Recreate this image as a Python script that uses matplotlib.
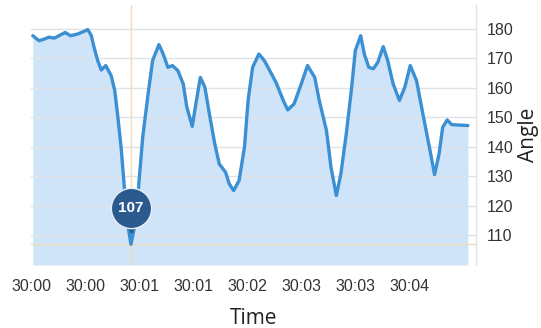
import matplotlib
matplotlib.use("Agg")
import matplotlib.pyplot as plt
import matplotlib.transforms as mtransforms

# ---- data ----
time_s = [0.02, 0.09, 0.15, 0.20, 0.26, 0.31, 0.38, 0.44, 0.52, 0.59,
          0.63, 0.67, 0.70, 0.74, 0.78, 0.83, 0.89, 0.93, 0.96, 1.00,
          1.03, 1.06, 1.11, 1.17, 1.20, 1.24, 1.30, 1.35, 1.42, 1.46,
          1.52, 1.57, 1.63, 1.69, 1.73, 1.79, 1.83, 1.88, 1.93, 1.98,
          2.04, 2.09, 2.16, 2.20, 2.25, 2.31, 2.37, 2.41, 2.46, 2.53,
          2.59, 2.65, 2.72, 2.80, 2.85, 2.92, 3.00, 3.07, 3.15, 3.20,
          3.28, 3.33, 3.39, 3.44, 3.50, 3.56, 3.60, 3.66, 3.70, 3.75,
          3.80, 3.85, 3.91, 3.96, 4.02, 4.09, 4.15, 4.21, 4.28, 4.35,
          4.43, 4.48, 4.53, 4.57, 4.62, 4.67, 4.85]
angle = [177.6, 175.9, 176.5, 177.1, 176.8, 177.6, 178.7, 177.6, 178.2, 179.1,
         179.7, 177.6, 173.7, 169.2, 166.0, 167.5, 164.1, 159.0, 151.2, 139.9,
         128.6, 116.2, 107.0, 116.2, 128.6, 143.2, 157.9, 169.2, 174.6, 172.0,
         166.9, 167.5, 165.8, 161.3, 153.4, 146.9, 154.5, 163.5, 160.2, 151.2,
         141.0, 134.2, 131.4, 127.5, 125.2, 128.6, 139.9, 155.7, 166.9, 171.4,
         169.2, 165.8, 161.8, 155.7, 152.5, 154.5, 161.3, 167.5, 163.5, 155.7,
         145.5, 133.1, 123.5, 130.9, 144.4, 160.2, 172.6, 177.6, 171.4, 166.9,
         166.4, 168.6, 173.9, 169.2, 161.3, 155.7, 160.2, 167.5, 162.4, 151.2,
         138.7, 130.6, 137.6, 146.6, 149.1, 147.5, 147.2]
x_ticks = [0.0, 0.6, 1.2, 1.8, 2.4, 3.0, 3.6, 4.2]
x_tick_labels = ["30:00", "30:00", "30:01", "30:01", "30:02", "30:03", "30:03", "30:04"]
y_ticks = [110, 120, 130, 140, 150, 160, 170, 180]
x_label = "Time"
y_label = "Angle"

LINE = "#3b8fd3"
FILL = "#cfe4f8"
BUBBLE = "#2b5a8e"
CROSS = "#efdcb8"
YMIN, YMAX = 100, 188

fig = plt.figure(figsize=(5.41, 3.28), dpi=100)
ax = fig.add_axes([31 / 541, 1 - 265 / 328, (476 - 31) / 541, (265 - 5) / 328])

ax.set_xlim(0, 4.94)
ax.set_ylim(YMIN, YMAX)

# grid
for v in y_ticks:
    ax.axhline(v, color="#dfe3e8", lw=1.0, zorder=2)

ax.fill_between(time_s, angle, YMIN, color=FILL, lw=0, zorder=1)

# crosshair at minimum
imin = angle.index(min(angle))
tmin, vmin = time_s[imin], angle[imin]
ax.axvline(tmin, color=CROSS, lw=1.0, zorder=2.5)
ax.axhline(vmin, color=CROSS, lw=1.0, zorder=2.5)

ax.plot(time_s, angle, color=LINE, lw=2.4, solid_joinstyle="round",
        solid_capstyle="round", zorder=3)

# bubble label
off = mtransforms.ScaledTranslation(0, 36 / 100, fig.dpi_scale_trans)
off_tail = mtransforms.ScaledTranslation(0, 17 / 100, fig.dpi_scale_trans)
ax.plot([tmin], [vmin], marker="v", ms=9, color=BUBBLE, mec=BUBBLE,
        transform=ax.transData + off_tail, zorder=4, clip_on=False)
ax.plot([tmin], [vmin], marker="o", ms=29, color=BUBBLE, mec="#e8eef5", mew=1.0,
        transform=ax.transData + off, zorder=5, clip_on=False)
ax.text(tmin, vmin, f"{vmin:.0f}", transform=ax.transData + off, color="white",
        fontsize=11, fontweight="bold", ha="center", va="center", zorder=6,
        family="Liberation Sans")

# axes styling
for s in ["left", "top", "bottom"]:
    ax.spines[s].set_visible(False)
ax.spines["right"].set_color("#e2e2e2")
ax.spines["right"].set_linewidth(1.0)

ax.yaxis.tick_right()
ax.yaxis.set_label_position("right")
ax.set_yticks(y_ticks)
ax.set_xticks(x_ticks)
ax.set_xticklabels(x_tick_labels)
ax.tick_params(axis="both", length=0, colors="#333333", labelsize=11.5)
ax.tick_params(axis="x", pad=10)
ax.tick_params(axis="y", pad=8)
for lab in ax.get_xticklabels() + ax.get_yticklabels():
    lab.set_family("Liberation Sans")

ax.set_xlabel(x_label, fontsize=15, family="Open Sans", color="#222222", labelpad=10)
ax.set_ylabel(y_label, fontsize=15, family="Open Sans", color="#222222", labelpad=3)

fig.savefig("out.png", dpi=100, facecolor="white")
